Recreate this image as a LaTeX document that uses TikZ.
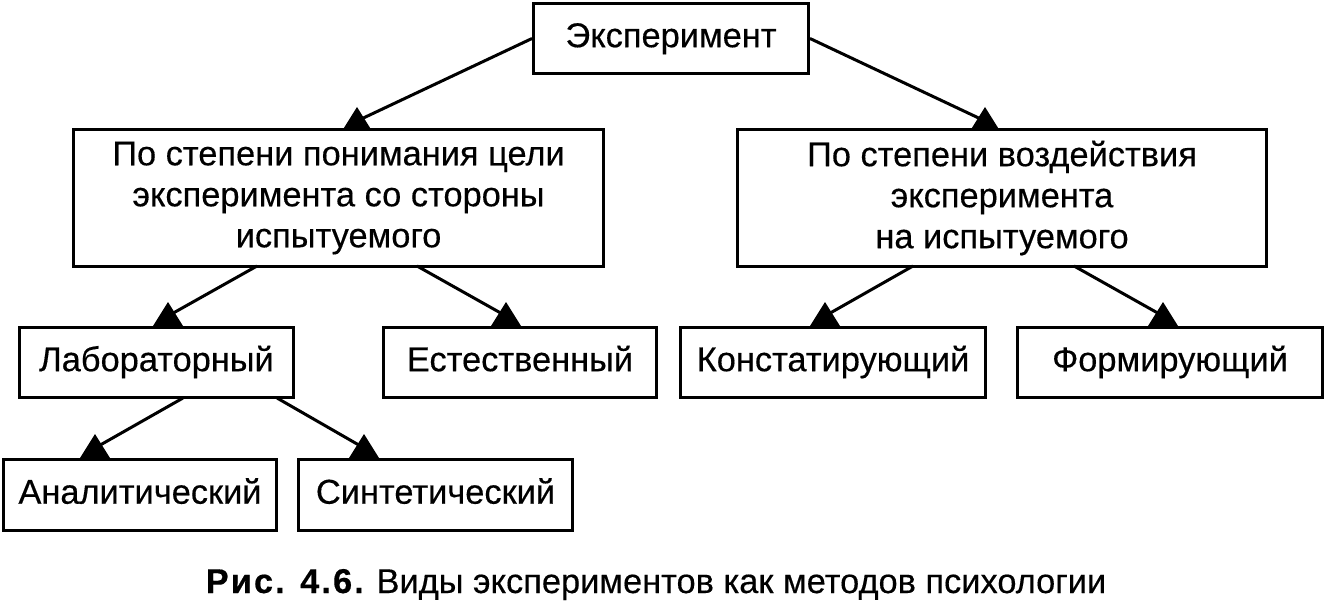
\documentclass[tikz,border=0pt]{standalone}
\usepackage{fontspec}
\setmainfont{Liberation Sans}[FakeBold=0.35]
\begin{document}
\begin{tikzpicture}[x=0.5pt,y=-0.5pt,
  box/.style={draw, line width=1.5pt, inner sep=0pt, align=center,
    font=\fontsize{17.2}{20.5}\selectfont\addfontfeature{FakeBold=0.35}},
  one/.style={box, text height=12.3pt, text depth=3.6pt},
  conn/.style={line width=1.5pt},
  tip/.style={fill=black}]
\useasboundingbox (0,0) rectangle (1326,604);
% boxes
\node[one, minimum width=137.5pt, minimum height=35pt] (exp) at (671,38.5) {Эксперимент};
\node[box, minimum width=265pt, minimum height=68.5pt] (left2) at (338.5,198)
  {По степени понимания цели\\эксперимента со стороны\\испытуемого};
\node[box, minimum width=264.5pt, minimum height=68.5pt] (right2) at (1002,198)
  {По степени воздействия\\эксперимента\\на испытуемого};
\node[one, minimum width=137pt, minimum height=35pt] (lab) at (156.5,362.5) {Лабораторный};
\node[one, minimum width=136.5pt, minimum height=35pt] (nat) at (520,362.5) {Естественный};
\node[one, minimum width=152.5pt, minimum height=35pt] (kon) at (833,362.5) {Констатирующий};
\node[one, minimum width=152.5pt, minimum height=35pt] (form) at (1170,362.5) {Формирующий};
\node[one, minimum width=136.5pt, minimum height=35.5pt] (anal) at (140,495) {Аналитический};
\node[one, minimum width=137pt, minimum height=35.5pt] (syn) at (435.5,495) {Синтетический};
% caption
\node[anchor=base, inner sep=0pt, font=\fontsize{17.2}{20}\selectfont] (cap) at (656,593)
  {{\bfseries\addfontfeature{LetterSpace=6}Рис. 4.6.} Виды экспериментов как методов психологии};
% connector points: s = start on parent, a = apex of tip, e = line end inside tip
\coordinate (s1) at (exp.west); \coordinate (a1) at (357,107);
\coordinate (s2) at (exp.east); \coordinate (a2) at (985,107);
\coordinate (s3) at (257,266); \coordinate (a3) at (168,302);
\coordinate (s4) at (417,266); \coordinate (a4) at (506,302);
\coordinate (s5) at (913,266); \coordinate (a5) at (825,302);
\coordinate (s6) at (1074,266); \coordinate (a6) at (1163,302);
\coordinate (s7) at (183,398); \coordinate (a7) at (95,434);
\coordinate (s8) at (277,398); \coordinate (a8) at (364,434);
\foreach \i in {1,...,8}{
  \draw[conn] (s\i) -- ([yshift=-7pt]a\i);
  \fill[tip] (a\i) -- ++(-15,24) -- ++(30,0) -- cycle;
}
\end{tikzpicture}
\end{document}
